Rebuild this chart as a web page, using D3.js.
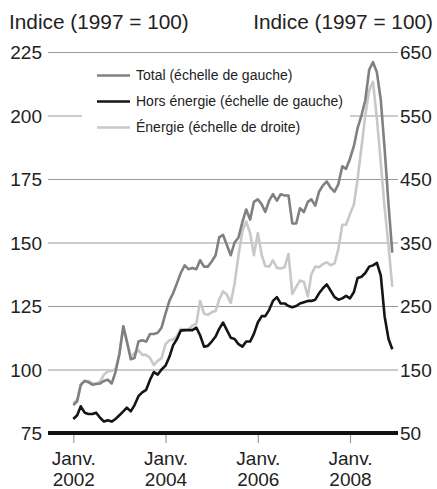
<!DOCTYPE html>
<meta charset="utf-8">
<script src="https://d3js.org/d3.v7.min.js"></script>
<style>
body { margin: 0; background: #fff; }
svg { font-family: "Liberation Sans", Arial, sans-serif; }
.grid line { stroke: #9a9a9a; stroke-width: 1.2px; }
.axis path { display: none; }
.axis text { font-size: 19px; fill: #222; }
.xaxis line { stroke: #999; stroke-width: 1.2px; }
.legend text { font-size: 14px; fill: #222; }
.series { fill: none; stroke-width: 2.6px; stroke-linejoin: round; }
</style>
<body></body>
<script>

// monthly, Jan 2002 -> Dec 2008
var total = [86, 87.5, 94, 95.5, 95, 94, 94.3, 94.5, 95.5, 96, 94.5, 99,
  106, 117, 111, 104, 104.5, 111, 111.5, 111, 114, 114, 114.5, 116.5,
  122, 127, 130, 134, 138, 141, 139.5, 140, 139.5, 143, 140.5, 140.5,
  142.5, 145, 152, 153, 149, 145, 150, 152, 158, 163, 159, 166,
  167, 165, 162, 166.5, 169, 166.5, 169, 168.5, 168.5, 157.5, 157.5, 163.5,
  162, 166, 167, 164.5, 170, 172.5, 174, 171.5, 170, 173, 180, 179,
  183, 188, 195, 200, 206, 218, 221, 217, 206, 187, 165, 146];

var horsEnergie = [80.5, 82, 85.5, 83, 82.5, 82.5, 83, 81, 79.5, 80, 79.5, 80.5,
  82, 83.5, 85, 83.5, 86, 89.5, 91, 92, 96, 99, 98, 100,
  101.5, 105, 109.5, 112, 115.3, 115.5, 115.5, 115.5, 116.5, 113.5, 109, 109.3,
  111, 113, 116, 118.5, 115.5, 112.5, 112, 110, 109, 111, 111, 114,
  118.5, 121, 121, 123.5, 127, 128.5, 126, 126, 125, 124.5, 125, 126,
  126.5, 127, 127, 127.5, 130, 132, 133.5, 131, 128.5, 127.5, 128, 129,
  128, 130.5, 136, 136.5, 138, 140.5, 141, 142, 137, 121, 112, 108];

var energie = [97, 103, 125, 132, 132, 128, 128, 131, 142, 147, 148, 150,
  176, 218, 195, 170, 176, 180, 173, 173, 168, 157, 164, 168,
  190, 196, 197, 203, 214, 212, 213, 219, 222, 258, 238, 236,
  240, 242, 260, 273, 268, 255, 285, 330, 368, 383, 365, 330,
  365, 330, 313, 312, 322, 310, 309, 311, 332, 269, 280, 290,
  288, 265, 300, 312, 311, 316, 319, 314, 317, 340, 378, 378,
  395, 410, 450, 500, 550, 590, 603, 545, 475, 405, 345, 280];

var leftTicks = [75, 100, 125, 150, 175, 200, 225];
var rightTicks = [50, 150, 250, 350, 450, 550, 650];
var xTickYears = [2002, 2004, 2006, 2008];
var yTitle = 'Indice (1997 = 100)';
var legendLabels = ['Total (échelle de gauche)', 'Hors énergie (échelle de gauche)', 'Énergie (échelle de droite)'];

var W = 437, H = 489;
var plot = {left: 48, right: 398, top: 52, bottom: 433};

var svg = d3.select('body').append('svg')
  .attr('width', W)
  .attr('height', H);

// x: Jan 2002 at 73.3, Jan 2008 at 350
var x0 = d3.scaleTime()
  .domain([new Date(2002, 0, 1), new Date(2008, 0, 1)])
  .range([73.3, 350]);
var x = d3.scaleTime()
  .domain([x0.invert(plot.left), x0.invert(plot.right)])
  .range([plot.left, plot.right]);

var yL = d3.scaleLinear().domain([75, 225]).range([plot.bottom, plot.top]);
var yR = d3.scaleLinear().domain([50, 650]).range([plot.bottom, plot.top]);

var months = total.map(function(d, i) { return new Date(2002, i, 1); });

// titles
svg.append('text')
  .attr('x', 9).attr('y', 29)
  .style('font-size', '20.8px').style('fill', '#222')
  .text(yTitle);
svg.append('text')
  .attr('x', 433).attr('y', 29)
  .attr('text-anchor', 'end')
  .style('font-size', '20.8px').style('fill', '#222')
  .text(yTitle);

// left axis + gridlines
svg.append('g')
  .attr('class', 'axis grid')
  .attr('transform', 'translate(' + plot.left + ',0)')
  .call(d3.axisLeft(yL).tickValues(leftTicks).tickSize(-(plot.right - plot.left)).tickPadding(6))
  .selectAll('text').attr('dy', '0.35em');

// right axis
svg.append('g')
  .attr('class', 'axis')
  .attr('transform', 'translate(' + plot.right + ',0)')
  .call(d3.axisRight(yR).tickValues(rightTicks).tickSize(0).tickPadding(2))
  .selectAll('text').attr('dy', '0.35em');

// x axis
var xAxis = svg.append('g')
  .attr('class', 'axis xaxis')
  .attr('transform', 'translate(0,' + plot.bottom + ')')
  .call(d3.axisBottom(x)
    .tickValues(xTickYears.map(function(y) { return new Date(y, 0, 1); }))
    .tickSize(10)
    .tickFormat(''));

xAxis.selectAll('.tick text').each(function(d) {
  var t = d3.select(this).attr('y', 0).attr('dy', null);
  t.append('tspan').attr('x', 0).attr('y', 32).text('Janv.');
  t.append('tspan').attr('x', 0).attr('y', 53).text(d.getFullYear());
});

// legend box hides the gridline behind it
svg.append('rect')
  .attr('x', 82).attr('y', 60)
  .attr('width', 268).attr('height', 80)
  .attr('fill', '#fff');

// series
var lineL = d3.line().x(function(d, i) { return x(months[i]); }).y(function(d) { return yL(d); });
var lineR = d3.line().x(function(d, i) { return x(months[i]); }).y(function(d) { return yR(d); });

var series = [
  {name: legendLabels[2], values: energie, line: lineR, color: '#c8c8c8'},
  {name: legendLabels[0], values: total, line: lineL, color: '#808080'},
  {name: legendLabels[1], values: horsEnergie, line: lineL, color: '#151515'}
];

svg.selectAll('.series')
  .data(series).enter().append('path')
  .attr('class', 'series')
  .attr('d', function(d) { return d.line(d.values); })
  .style('stroke', function(d) { return d.color; });

// baseline
svg.append('line')
  .attr('x1', plot.left).attr('x2', plot.right)
  .attr('y1', yL(75)).attr('y2', yL(75))
  .style('stroke', '#111').style('stroke-width', 4);

// legend
var legendColors = ['#808080', '#151515', '#c8c8c8'];
var legend = svg.selectAll('.legend')
  .data(legendLabels).enter().append('g')
  .attr('class', 'legend')
  .attr('transform', function(d, i) { return 'translate(97,' + (75.5 + i * 26) + ')'; });

legend.append('line')
  .attr('x1', 0).attr('x2', 33)
  .style('stroke', function(d, i) { return legendColors[i]; })
  .style('stroke-width', 2.6);

legend.append('text')
  .attr('x', 39)
  .attr('dy', '0.35em')
  .text(function(d) { return d; });

</script>
